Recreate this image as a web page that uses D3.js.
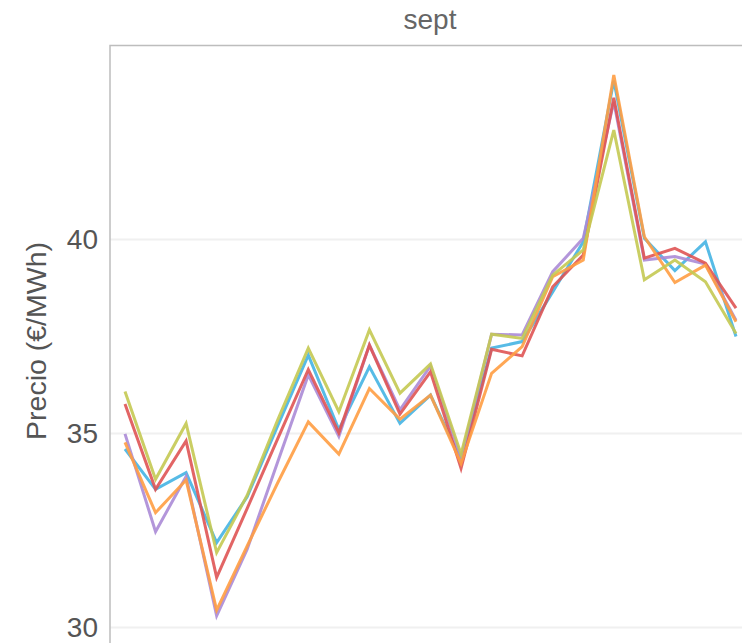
<!DOCTYPE html>
<html>
<head>
<meta charset="utf-8">
<script src="https://cdn.jsdelivr.net/npm/d3@7"></script>
<style>
  body { margin: 0; background: #fff; }
  svg { display: block; font-family: "Liberation Sans", Arial, sans-serif; }
</style>
</head>
<body>
<svg id="chart" width="742" height="643"></svg>
<script>
// days of september shown
const days = d3.range(1, 22);

// one price series per line (€/MWh)
const serieAzul    = [34.60, 33.56, 33.99, 32.19, 33.37, 35.20, 37.02, 35.10, 36.72, 35.26, 35.99, 34.32, 37.20, 37.37, 38.65, 39.94, 44.10, 40.03, 39.20, 39.94, 37.50];
const serieMorado  = [34.99, 32.47, 33.89, 30.30, 32.02, 34.27, 36.51, 34.93, 37.28, 35.61, 36.74, 34.36, 37.56, 37.54, 39.17, 40.03, 43.55, 39.47, 39.56, 39.37, 37.92];
const serieRojo    = [35.76, 33.56, 34.81, 31.29, 33.07, 34.87, 36.65, 35.02, 37.28, 35.50, 36.59, 34.10, 37.17, 37.00, 38.78, 39.60, 43.65, 39.52, 39.77, 39.39, 38.23];
const serieNaranja = [34.77, 32.96, 33.80, 30.45, 32.10, 33.73, 35.30, 34.47, 36.16, 35.37, 35.99, 34.23, 36.55, 37.24, 39.04, 39.47, 44.24, 40.07, 38.89, 39.34, 37.88];
const serieVerde   = [36.08, 33.82, 35.26, 31.93, 33.41, 35.35, 37.20, 35.56, 37.67, 36.04, 36.79, 34.47, 37.56, 37.45, 39.08, 39.73, 42.82, 38.96, 39.47, 38.91, 37.58];

const yTicks = [30, 35, 40];

const series = [
  { values: serieAzul, color: '#45b4e3' },
  { values: serieMorado, color: '#ab8bd6' },
  { values: serieRojo, color: '#df5454' },
  { values: serieNaranja, color: '#ff9d42' },
  { values: serieVerde, color: '#c4c952' }
];

// layout
const svg = d3.select('#chart');
const margin = { top: 45.5, left: 110 };
const innerWidth = 640;
const innerHeight = 620;

const xScale = d3.scaleLinear()
  .domain([1, 21])
  .range([15, 626]);
const yScale = d3.scaleLinear()
  .domain([30, 45])
  .range([582, 0]);

// title
svg.append('text')
  .attr('x', margin.left + innerWidth / 2)
  .attr('y', 29)
  .attr('text-anchor', 'middle')
  .style('font-size', '28px')
  .style('fill', '#666')
  .text('sept');

// y axis label
svg.append('text')
  .attr('transform', `translate(46, 341) rotate(-90)`)
  .attr('text-anchor', 'middle')
  .style('font-size', '28.5px')
  .style('fill', '#555')
  .text('Precio (€/MWh)');

let g = svg.append('g').attr('transform', `translate(${margin.left},${margin.top})`);

// grid lines
g.selectAll('.grid')
  .data(yTicks)
  .join('line')
  .classed('grid', true)
  .attr('x1', 0)
  .attr('x2', innerWidth)
  .attr('y1', d => yScale(d))
  .attr('y2', d => yScale(d))
  .style('stroke', '#f0f0f0')
  .style('stroke-width', 2);

// tick labels
let axisG = g.append('g').call(d3.axisLeft(yScale).tickValues(yTicks).tickSize(0).tickPadding(12));
axisG.select('.domain').remove();
axisG.selectAll('text')
  .style('font-size', '28px')
  .style('font-family', '"Liberation Sans", Arial, sans-serif')
  .style('fill', '#555');

// frame
g.append('rect')
  .attr('width', innerWidth)
  .attr('height', innerHeight)
  .style('fill', 'none')
  .style('stroke', '#bdbdbd')
  .style('stroke-width', 1.5);

// lines
const line = d3.line()
  .x((d, i) => xScale(days[i]))
  .y(d => yScale(d));

g.selectAll('.serie')
  .data(series)
  .join('path')
  .classed('serie', true)
  .attr('d', d => line(d.values))
  .style('fill', 'none')
  .style('stroke', d => d.color)
  .style('stroke-width', 3)
  .style('stroke-opacity', 0.9)
  .style('stroke-linejoin', 'miter');
</script>
</body>
</html>
